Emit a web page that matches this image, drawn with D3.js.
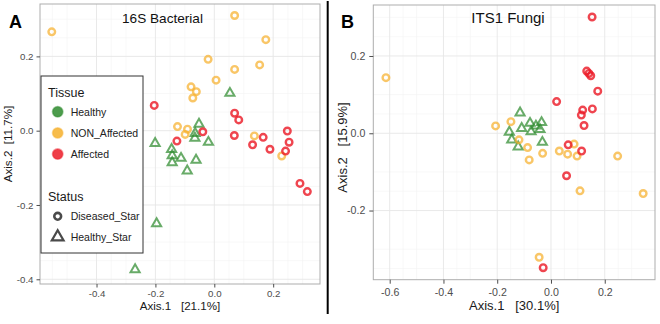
<!DOCTYPE html>
<html>
<head>
<meta charset="utf-8">
<script src="https://cdn.jsdelivr.net/npm/d3@7"></script>
<style>
    body { margin: 0; background: #fff; }
    svg { font-family: "Liberation Sans", Arial, sans-serif; }
    .grid-major { stroke: #e6e6e6; stroke-width: 0.9; }
    .grid-minor { stroke: #f3f3f3; stroke-width: 0.6; }
    .axis text { fill: #4d4d4d; }
    .axis line { stroke: #4d4d4d; }
</style>
</head>
<body>
<div id="chart"></div>
<script>
// categories
const tissueLevels = ["Healthy", "NON_Affected", "Affected"];
const statusLevels = ["Diseased_Star", "Healthy_Star"];

// 16S bacterial ordination, [Axis.1, Axis.2]
const bactHealthy = [
    [0.053, 0.101], [-0.052, 0.018], [-0.065, -0.007], [-0.066, -0.020], [-0.020, -0.031],
    [-0.201, -0.034], [-0.145, -0.050], [-0.143, -0.067], [-0.113, -0.074], [-0.143, -0.086],
    [-0.062, -0.079], [-0.092, -0.108], [-0.196, -0.250], [-0.269, -0.374]
];
const bactNonAffected = [
    [-0.552, 0.266], [0.069, 0.310], [0.175, 0.245], [-0.021, 0.192], [0.069, 0.165],
    [0.154, 0.177], [0.006, 0.136], [-0.079, 0.118], [-0.061, 0.105], [-0.073, 0.088],
    [-0.125, 0.011], [-0.091, 0.004], [-0.099, -0.010], [0.136, -0.014], [0.229, -0.068]
];
const bactAffected = [
    [-0.204, 0.068], [0.069, 0.047], [0.083, 0.029], [-0.039, -0.003], [-0.127, -0.028],
    [0.068, -0.013], [0.166, -0.018], [0.130, -0.038], [0.189, -0.050], [0.248, -0.001],
    [0.254, -0.031], [0.242, -0.055], [0.291, -0.142], [0.316, -0.164]
];

// ITS1 fungal ordination, [Axis.1, Axis.2]
const fungiHealthy = [
    [-0.115, 0.053], [-0.155, 0.003], [-0.109, 0.013], [-0.078, 0.026], [-0.056, 0.019],
    [-0.035, 0.028], [-0.074, 0.004], [-0.041, 0.010], [-0.146, -0.017], [-0.122, -0.035],
    [-0.032, -0.023]
];
const fungiNonAffected = [
    [-0.614, 0.144], [-0.206, 0.019], [-0.149, 0.030], [-0.119, -0.017], [-0.087, -0.037],
    [-0.081, -0.069], [-0.031, -0.052], [0.031, -0.046], [0.062, -0.054], [0.086, -0.028],
    [0.097, -0.059], [0.248, -0.059], [0.108, -0.149], [0.343, -0.156], [-0.044, -0.321]
];
const fungiAffected = [
    [0.153, 0.301], [0.133, 0.161], [0.141, 0.155], [0.148, 0.149], [0.174, 0.109],
    [0.021, 0.082], [0.118, 0.060], [0.154, 0.063], [0.113, 0.047], [0.123, 0.020],
    [0.064, -0.030], [0.114, -0.046], [0.058, -0.110], [-0.029, -0.348]
];

// tick labels
const bactXTicks = [-0.4, -0.2, 0.0, 0.2];
const bactYTicks = [-0.4, -0.2, 0.0, 0.2];
const fungiXTicks = [-0.6, -0.4, -0.2, 0.0, 0.2];
const fungiYTicks = [-0.2, 0.0, 0.2];

const tissueColour = d3.scaleOrdinal()
    .domain(tissueLevels)
    .range(["#2e8b2e", "#f6b02c", "#ec1c28"]);

function toPoints(arr, tissue, status) {
    return arr.map(d => ({ x: d[0], y: d[1], tissue: tissue, status: status }));
}

class PcoaPanel {

    constructor(_svg, _config, _points) {
        this.svg = _svg;
        this.config = _config;
        this.points = _points;

        this.initVis();
    }

    initVis() {
        let vis = this;
        let c = vis.config;

        vis.x = d3.scaleLinear().domain(c.xDomain).range([c.left, c.right]);
        vis.y = d3.scaleLinear().domain(c.yDomain).range([c.bottom, c.top]);

        vis.g = vis.svg.append("g").attr("class", "panel");

        // minor + major grid
        let xMinor = vis.x.ticks(20).filter(t => Math.abs(Math.round(t * 10) % 2) === 1);
        let yMinor = vis.y.ticks(20).filter(t => Math.abs(Math.round(t * 10) % 2) === 1);

        vis.g.selectAll(".gx-minor").data(xMinor).enter().append("line")
            .attr("class", "grid-minor")
            .attr("x1", d => vis.x(d)).attr("x2", d => vis.x(d))
            .attr("y1", c.top).attr("y2", c.bottom);
        vis.g.selectAll(".gy-minor").data(yMinor).enter().append("line")
            .attr("class", "grid-minor")
            .attr("x1", c.left).attr("x2", c.right)
            .attr("y1", d => vis.y(d)).attr("y2", d => vis.y(d));
        vis.g.selectAll(".gx-major").data(c.xTicks).enter().append("line")
            .attr("class", "grid-major")
            .attr("x1", d => vis.x(d)).attr("x2", d => vis.x(d))
            .attr("y1", c.top).attr("y2", c.bottom);
        vis.g.selectAll(".gy-major").data(c.yTicks).enter().append("line")
            .attr("class", "grid-major")
            .attr("x1", c.left).attr("x2", c.right)
            .attr("y1", d => vis.y(d)).attr("y2", d => vis.y(d));

        // points
        let tri = d3.symbol().type(d3.symbolTriangle).size(c.triSize);

        vis.g.selectAll(".pt")
            .data(vis.points)
            .enter()
            .append("path")
            .attr("class", "pt")
            .attr("transform", d => "translate(" + vis.x(d.x) + "," + vis.y(d.y) + ")")
            .attr("d", d => d.status === "Healthy_Star" ? tri() : d3.symbol().type(d3.symbolCircle).size(Math.PI * c.ringR * c.ringR)())
            .attr("fill", "none")
            .attr("stroke", d => tissueColour(d.tissue))
            .attr("stroke-width", d => d.status === "Healthy_Star" ? 2 : 2.4)
            .attr("stroke-opacity", d => d.tissue === "Healthy" ? 0.72 : d.tissue === "NON_Affected" ? 0.72 : 0.82);

        // panel border
        vis.g.append("rect")
            .attr("x", c.left).attr("y", c.top)
            .attr("width", c.right - c.left).attr("height", c.bottom - c.top)
            .attr("fill", "none")
            .attr("stroke", "#adadad")
            .attr("stroke-width", 1);

        let fmt = d => d.toFixed(1);

        vis.xAxis = d3.axisBottom(vis.x).tickValues(c.xTicks).tickSize(c.tickSize).tickPadding(c.xPad).tickFormat(fmt);
        vis.yAxis = d3.axisLeft(vis.y).tickValues(c.yTicks).tickSize(c.tickSize).tickPadding(c.yPad).tickFormat(fmt);

        vis.g.append("g")
            .attr("class", "axis")
            .attr("transform", "translate(0," + c.bottom + ")")
            .call(vis.xAxis)
            .call(g => g.select(".domain").remove())
            .attr("font-family", null)
            .attr("font-size", c.tickFont);

        vis.g.append("g")
            .attr("class", "axis")
            .attr("transform", "translate(" + c.left + ",0)")
            .call(vis.yAxis)
            .call(g => g.select(".domain").remove())
            .attr("font-family", null)
            .attr("font-size", c.tickFont);

        // axis titles
        vis.g.append("text")
            .attr("x", (c.left + c.right) / 2)
            .attr("y", c.xTitleY)
            .attr("text-anchor", "middle")
            .style("white-space", "pre")
            .style("font-size", c.titleFont + "px")
            .attr("fill", "#1a1a1a")
            .text(c.xTitle);

        vis.g.append("text")
            .attr("transform", "translate(" + c.yTitleX + "," + c.yTitleMid + ") rotate(-90)")
            .attr("text-anchor", "middle")
            .style("white-space", "pre")
            .style("font-size", c.titleFont + "px")
            .attr("fill", "#1a1a1a")
            .text(c.yTitle);

        // panel title + letter
        vis.g.append("text")
            .attr("x", c.headX).attr("y", 23)
            .attr("text-anchor", "middle")
            .style("font-size", c.headFont + "px")
            .attr("fill", "#111")
            .text(c.head);

        vis.g.append("text")
            .attr("x", c.letterX).attr("y", 28)
            .style("font-size", "18px")
            .style("font-weight", "bold")
            .attr("fill", "#000")
            .text(c.letter);
    }
}

let svg = d3.select("#chart").append("svg")
    .attr("width", 660)
    .attr("height", 324);

let bactPoints = [].concat(
    toPoints(bactHealthy, "Healthy", "Healthy_Star"),
    toPoints(bactNonAffected, "NON_Affected", "Diseased_Star"),
    toPoints(bactAffected, "Affected", "Diseased_Star")
);
let fungiPoints = [].concat(
    toPoints(fungiHealthy, "Healthy", "Healthy_Star"),
    toPoints(fungiNonAffected, "NON_Affected", "Diseased_Star"),
    toPoints(fungiAffected, "Affected", "Diseased_Star")
);

new PcoaPanel(svg, {
    left: 40, right: 320, top: 4, bottom: 284,
    xDomain: [-0.592, 0.359], yDomain: [-0.4127, 0.341],
    xTicks: bactXTicks, yTicks: bactYTicks,
    tickSize: 3.5, xPad: 2.5, yPad: 3, tickFont: 9.7,
    ringR: 3.3, triSize: 36,
    titleFont: 11.6, xTitle: "Axis.1   [21.1%]", xTitleY: 310,
    yTitle: "Axis.2  [11.7%]", yTitleX: 12, yTitleMid: 144,
    head: "16S Bacterial", headX: 162.5, headFont: 13.6,
    letter: "A", letterX: 9
}, bactPoints);

new PcoaPanel(svg, {
    left: 373.3, right: 655, top: 5, bottom: 279.7,
    xDomain: [-0.661, 0.387], yDomain: [-0.379, 0.332],
    xTicks: fungiXTicks, yTicks: fungiYTicks,
    tickSize: 4, xPad: 5, yPad: 4, tickFont: 10.6,
    ringR: 3.3, triSize: 36,
    titleFont: 13, xTitle: "Axis.1   [30.1%]", xTitleY: 309.5,
    yTitle: "Axis.2   [15.9%]", yTitleX: 347, yTitleMid: 147.5,
    head: "ITS1 Fungi", headX: 508, headFont: 15,
    letter: "B", letterX: 341
}, fungiPoints);

// legend (panel A)
let legend = svg.append("g").attr("class", "legend");

legend.append("rect")
    .attr("x", 41).attr("y", 76)
    .attr("width", 102).attr("height", 177)
    .attr("fill", "#fff")
    .attr("stroke", "#333")
    .attr("stroke-width", 1);

legend.append("text").attr("x", 48).attr("y", 96.5)
    .style("font-size", "12.5px").attr("fill", "#1a1a1a").text("Tissue");
legend.append("text").attr("x", 48).attr("y", 200.5)
    .style("font-size", "12.5px").attr("fill", "#1a1a1a").text("Status");

let tissueKey = legend.selectAll(".tkey")
    .data(tissueLevels)
    .enter()
    .append("g")
    .attr("class", "tkey")
    .attr("transform", (d, i) => "translate(57.7," + (111.7 + i * 21.2) + ")");

tissueKey.append("circle")
    .attr("r", 5.2)
    .attr("fill", d => tissueColour(d))
    .attr("fill-opacity", 0.85)
    .attr("stroke", d => tissueColour(d))
    .attr("stroke-opacity", 0.45)
    .attr("stroke-width", 1.6);

tissueKey.append("text")
    .attr("x", 13).attr("y", 3.8)
    .style("font-size", "10.5px")
    .attr("fill", "#222")
    .text(d => d);

let statusKey = legend.selectAll(".skey")
    .data(statusLevels)
    .enter()
    .append("g")
    .attr("class", "skey")
    .attr("transform", (d, i) => "translate(57.7," + (216.3 + i * 20.7) + ")");

statusKey.append("path")
    .attr("d", d => d === "Healthy_Star"
        ? d3.symbol().type(d3.symbolTriangle).size(60)()
        : d3.symbol().type(d3.symbolCircle).size(Math.PI * 3.4 * 3.4)())
    .attr("fill", "none")
    .attr("stroke", "#4a4a4a")
    .attr("stroke-width", d => d === "Healthy_Star" ? 2.2 : 2.6);

statusKey.append("text")
    .attr("x", 13).attr("y", 3.8)
    .style("font-size", "10.5px")
    .attr("fill", "#222")
    .text(d => d);

// divider between panels
svg.append("line")
    .attr("x1", 327.7).attr("x2", 327.7)
    .attr("y1", 1).attr("y2", 314)
    .attr("stroke", "#000")
    .attr("stroke-width", 2);
</script>
</body>
</html>
